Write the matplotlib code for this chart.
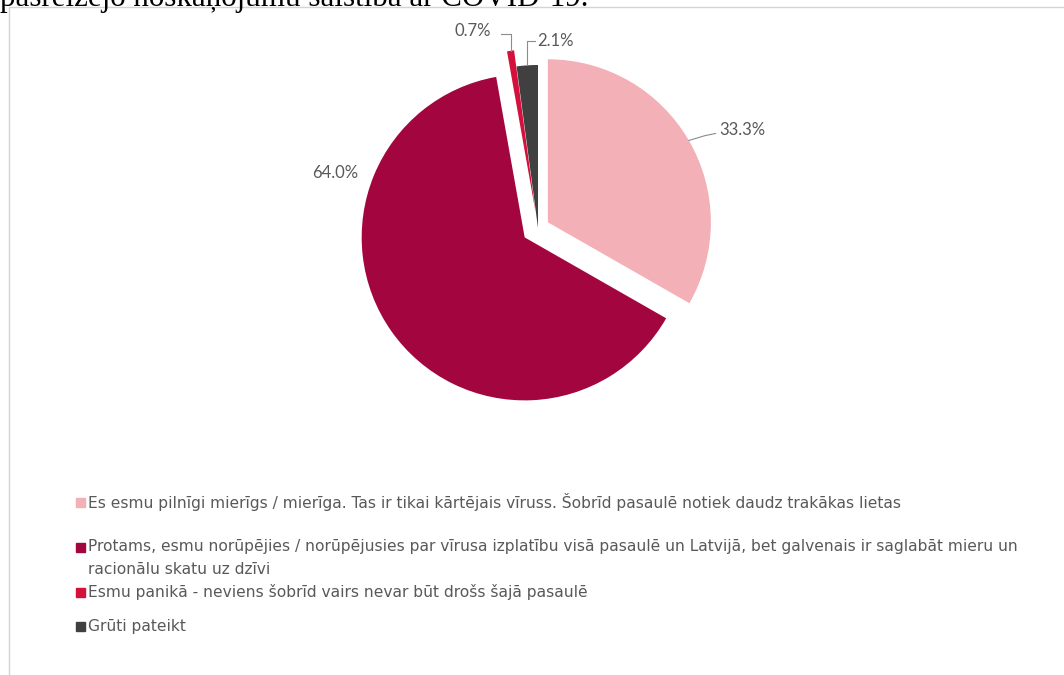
import matplotlib
matplotlib.use('Agg')
import matplotlib.pyplot as plt
from matplotlib.patches import Rectangle
import numpy as np

# data
categories = [
    'Es esmu pilnīgi mierīgs / mierīga. Tas ir tikai kārtējais vīruss. Šobrīd pasaulē notiek daudz trakākas lietas',
    'Protams, esmu norūpējies / norūpējusies par vīrusa izplatību visā pasaulē un Latvijā, bet galvenais ir saglabāt mieru un\nracionālu skatu uz dzīvi',
    'Esmu panikā - neviens šobrīd vairs nevar būt drošs šajā pasaulē',
    'Grūti pateikt',
]
values = [33.3, 64.0, 0.7, 2.1]
pct_labels = ['33.3%', '64.0%', '0.7%', '2.1%']

colors = ['#F3B0B6', '#A3063F', '#D4103D', '#404040']
explode = [0.07, 0.1, 0.1, 0.0]
text_color = '#595959'

W, H = 1064, 675
fig = plt.figure(figsize=(W / 100, H / 100), dpi=100)

# chart frame (runs off the right and bottom edges)
fig.patches.append(Rectangle((9 / W, -0.1), 1.2, 1 - 7 / H + 0.1, transform=fig.transFigure,
                             fill=False, edgecolor='#D4D4D4', linewidth=1.0))

# cut-off heading line from the surrounding document
fig.text(0.0, 1 - 6 / H, 'pašreizējo noskaņojumu saistībā ar COVID-19.', fontsize=22.3,
         family='Liberation Serif', color='black', va='baseline', ha='left')

# pie: centre (538, 228) px, radius 163 px
cx, cy, r = 538, 228, 163
lim = 1.35
half = lim * r
ax = fig.add_axes([(cx - half) / W, (H - cy - half) / H, 2 * half / W, 2 * half / H])
wedges, _ = ax.pie(values, colors=colors, explode=explode, startangle=90,
                   counterclock=False, radius=1.0,
                   wedgeprops=dict(linewidth=0))
ax.set_xlim(-lim, lim)
ax.set_ylim(-lim, lim)
ax.set_aspect('equal')
ax.axis('off')

# data labels
font = ['Lato', 'DejaVu Sans']
for i, w in enumerate(wedges):
    mid = np.deg2rad((w.theta1 + w.theta2) / 2)
    ex, ey = w.center[0] + w.r * np.cos(mid), w.center[1] + w.r * np.sin(mid)
    if i == 0:
        tx, ty = 1.11, 0.60
        ax.plot([ex, ex + 0.1, tx - 0.02], [ey, ey + 0.03, ty - 0.02], color='#8C8C8C', lw=0.8)
        ax.text(tx, ty, pct_labels[i], ha='left', va='center', fontsize=12, color=text_color, family=font)
    elif i == 1:
        ax.text(-1.245, 0.337, pct_labels[i], ha='center', va='center', fontsize=12, color=text_color, family=font)
    elif i == 2:
        ty = 1.19
        ax.plot([ex, ex, ex - 0.06], [ey, ty, ty], color='#8C8C8C', lw=0.8)
        ax.text(ex - 0.12, ty + 0.02, pct_labels[i], ha='right', va='center', fontsize=12, color=text_color, family=font)
    else:
        ty = 1.15
        ax.plot([ex, ex, ex + 0.05], [ey, ty, ty], color='#8C8C8C', lw=0.8)
        ax.text(ex + 0.06, ty, pct_labels[i], ha='left', va='center', fontsize=12, color=text_color, family=font)

# legend drawn by hand (uneven spacing as in the original)
legend_font = ['DejaVu Sans']
legend_y = [502, 547, 592, 626]
for lab, col, y in zip(categories, colors, legend_y):
    fig.patches.append(Rectangle((76 / W, 1 - (y + 4.5) / H), 9 / W, 9 / H,
                                 transform=fig.transFigure, color=col))
    lines = lab.split('\n')
    for k, line in enumerate(lines):
        fig.text(88 / W, 1 - (y + 23 * k) / H, line, fontsize=11.15, color=text_color,
                 family=legend_font, va='center', ha='left')

fig.savefig('out.png', dpi=100)
